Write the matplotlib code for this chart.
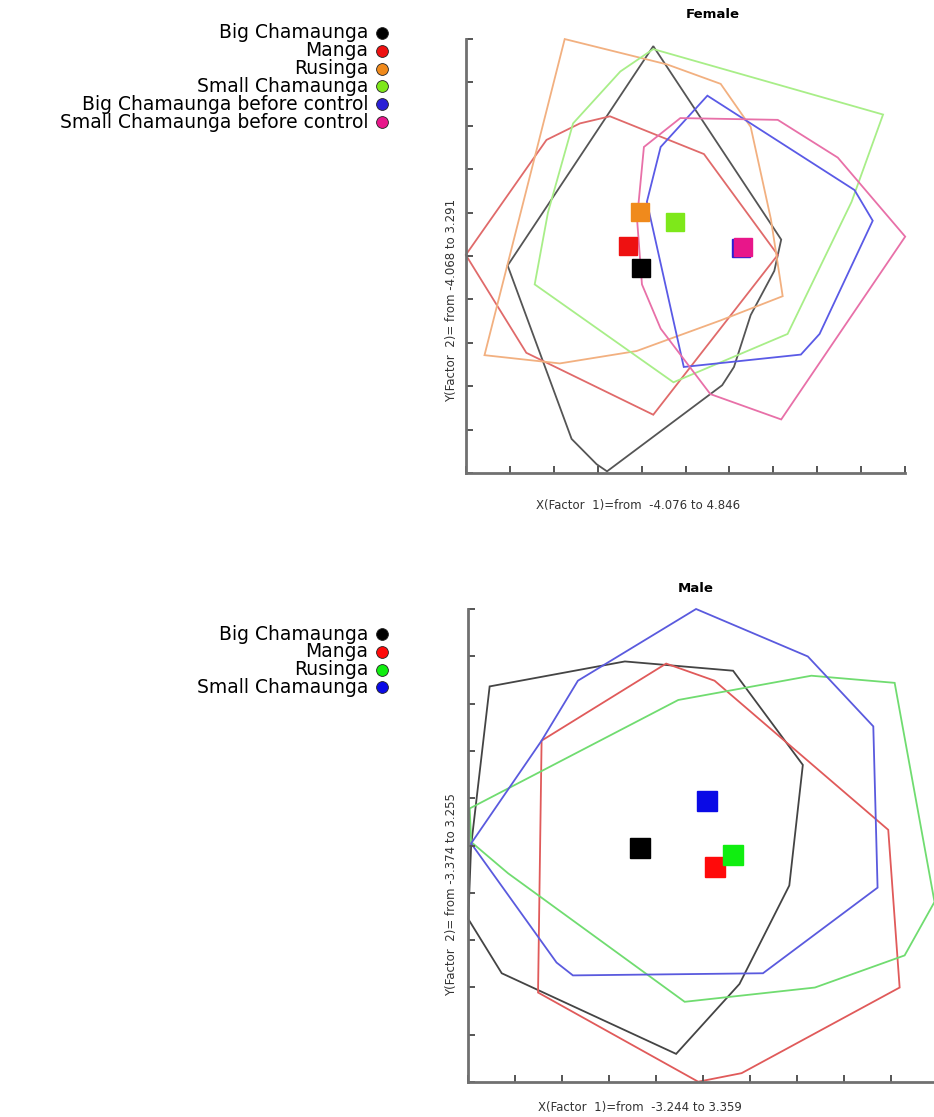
import matplotlib
matplotlib.use("Agg")
from matplotlib import pyplot as plt

# ---- Female: factor scores, hull outlines and centroids per site ----
fem_groups = ["Big Chamaunga", "Manga", "Rusinga", "Small Chamaunga",
              "Big Chamaunga before control", "Small Chamaunga before control"]
fem_colors = ["#000000", "#ee1111", "#f08a1c", "#7ee81a", "#2a1fd6", "#e8168a"]
fem_line_colors = ["#555555", "#e06a6a", "#f2b080", "#a8ee88", "#5a5ae6", "#e870a8"]

fem_hull_x = [
    [-0.27, 2.33, 2.19, 1.71, 1.37, 1.13, -1.21, -1.42, -1.93, -3.23],
    [-1.15, 0.76, 2.26, -0.27, -2.85, -4.08, -2.44, -1.76],
    [-2.07, 0.01, 1.10, 1.71, 2.12, 2.36, 1.10, -0.61, -2.17, -3.70],
    [-2.68, -2.41, -1.90, -0.94, -0.27, 4.40, 3.76, 2.46, 0.14],
    [0.83, 3.82, 4.19, 3.11, 2.73, 0.35, -0.40, -0.12],
    [0.28, 2.26, 3.48, 4.85, 2.33, 0.89, -0.12, -0.50, -0.60, -0.46],
]
fem_hull_y = [
    [3.17, -0.11, -0.64, -1.39, -2.27, -2.58, -4.04, -3.92, -3.49, -0.55],
    [1.98, 1.34, -0.37, -3.08, -2.03, -0.37, 1.58, 1.86],
    [3.29, 2.86, 2.53, 1.80, 0.24, -1.07, -1.48, -2.00, -2.21, -2.07],
    [-0.87, 0.35, 1.86, 2.74, 3.12, 2.01, 0.53, -1.71, -2.53],
    [2.33, 0.73, 0.21, -1.71, -2.06, -2.27, 0.53, 1.46],
    [1.95, 1.92, 1.28, -0.06, -3.16, -2.73, -1.62, -0.87, 0.24, 1.46],
]
fem_cx = [-0.52, -0.79, -0.54, 0.18, 1.51, 1.56]
fem_cy = [-0.59, -0.22, 0.35, 0.18, -0.26, -0.23]
fem_xlim = (-4.076, 4.846)
fem_ylim = (-4.068, 3.291)

# ---- Male ----
male_groups = ["Big Chamaunga", "Manga", "Rusinga", "Small Chamaunga"]
male_colors = ["#000000", "#ff0a0a", "#10ee10", "#0a0ae6"]
male_line_colors = ["#444444", "#e05a5a", "#70dc70", "#5a5ade"]

male_hull_x = [
    [-2.94, -1.04, 0.48, 1.46, 1.27, 0.57, -0.32, -2.77, -3.24, -3.20],
    [-0.46, 0.22, 2.66, 2.82, 0.60, -0.01, -2.26, -2.21],
    [-3.22, -0.29, 1.58, 2.75, 3.31, 2.89, 1.63, -0.20, -2.68, -3.20],
    [-0.04, 1.53, 2.45, 2.51, 0.90, -1.77, -2.00, -3.20, -2.21, -1.70],
]
male_hull_y = [
    [2.17, 2.52, 2.39, 1.07, -0.62, -2.00, -2.98, -1.85, -1.09, -0.06],
    [2.49, 2.25, 0.16, -2.05, -3.25, -3.37, -2.12, 1.41],
    [0.46, 1.98, 2.32, 2.22, -0.85, -1.60, -2.05, -2.25, -0.45, -0.01],
    [3.255, 2.59, 1.61, -0.65, -1.85, -1.88, -1.70, -0.03, 1.41, 2.25],
]
male_cx = [-0.83, 0.23, 0.48, 0.12]
male_cy = [-0.10, -0.36, -0.19, 0.57]
male_xlim = (-3.244, 3.359)
male_ylim = (-3.374, 3.255)

W, H = 934, 1117
fig = plt.figure(figsize=(W / 100, H / 100), dpi=100)
fig.patch.set_facecolor("white")


def px(x, y):
    # pixel position -> figure fraction
    return x / W, 1 - y / H


def draw_panel(rect, hx, hy, cx, cy, colors, lcolors, xlim, ylim, msize):
    ax = fig.add_axes(rect)
    for xs, ys, lc in zip(hx, hy, lcolors):
        ax.fill(xs, ys, facecolor="none", edgecolor=lc, linewidth=1.3,
                clip_on=False)
    for x, y, c in zip(cx, cy, colors):
        ax.plot(x, y, marker="s", markersize=msize, color=c,
                markeredgecolor=c, linestyle="none")
    ax.set_xlim(xlim)
    ax.set_ylim(ylim)
    # ten equal divisions, no tick labels
    ax.set_xticks([xlim[0] + i * (xlim[1] - xlim[0]) / 10 for i in range(11)])
    ax.set_yticks([ylim[0] + i * (ylim[1] - ylim[0]) / 10 for i in range(11)])
    ax.set_xticklabels([])
    ax.set_yticklabels([])
    ax.tick_params(direction="in", length=5, width=1.4, color="#555555")
    for s in ["top", "right"]:
        ax.spines[s].set_visible(False)
    for s in ["left", "bottom"]:
        ax.spines[s].set_color("#707070")
        ax.spines[s].set_linewidth(2)
    ax.patch.set_alpha(0)
    return ax


draw_panel([466 / W, 1 - 473 / H, 439 / W, 434 / H],
           fem_hull_x, fem_hull_y, fem_cx, fem_cy, fem_colors, fem_line_colors,
           fem_xlim, fem_ylim, 13)
draw_panel([468 / W, 1 - 1082 / H, 470 / W, 473 / H],
           male_hull_x, male_hull_y, male_cx, male_cy, male_colors,
           male_line_colors, male_xlim, male_ylim, 14)

# titles and axis captions
fig.text(*px(713, 15), "Female", ha="center", va="center", fontsize=9.5,
         fontweight="bold")
fig.text(*px(696, 588), "Male", ha="center", va="center", fontsize=9.5,
         fontweight="bold")
fig.text(*px(638, 505), "X(Factor  1)=from  -4.076 to 4.846", ha="center",
         va="center", fontsize=8.5, color="#333333")
fig.text(*px(640, 1108), "X(Factor  1)=from  -3.244 to 3.359", ha="center",
         va="center", fontsize=8.5, color="#333333")
fig.text(*px(452, 300), "Y(Factor  2)= from -4.068 to 3.291", ha="center",
         va="center", rotation=90, fontsize=8.5, color="#333333")
fig.text(*px(452, 895), "Y(Factor  2)= from -3.374 to 3.255", ha="center",
         va="center", rotation=90, fontsize=8.5, color="#333333")


def draw_key(groups, colors, y0):
    for i, (g, c) in enumerate(zip(groups, colors)):
        x, y = px(368, y0 + i * 17.8)
        fig.text(x, y, g, ha="right", va="center", fontsize=13.5)
        fig.lines.append(plt.Line2D([382 / W], [y], transform=fig.transFigure,
                                    marker="o", markersize=8.5, color=c,
                                    markeredgecolor="#222222",
                                    markeredgewidth=0.6, linestyle="none"))


draw_key(fem_groups, fem_colors, 33)
draw_key(male_groups, male_colors, 634)

fig.savefig("out.png", dpi=100)
